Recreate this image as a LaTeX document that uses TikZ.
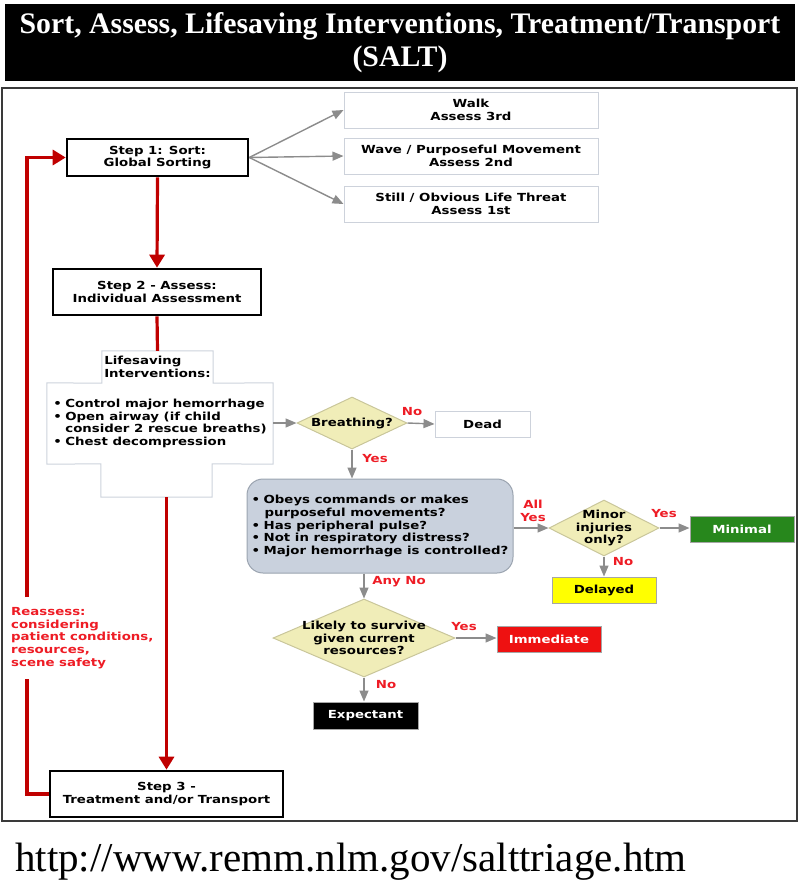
\documentclass[tikz,border=0pt]{standalone}
\usepackage{fontspec}
\usepackage{xcolor}
\usepackage{tikz}
\usetikzlibrary{arrows.meta}
\usetikzlibrary{positioning}
\usetikzlibrary{shapes}
\usetikzlibrary{calc}

\newfontfamily\vfont[FakeStretch=1.2]{DejaVu Sans}
\newfontfamily\gfont{Liberation Serif}

\definecolor{redline}{HTML}{C00000}
\definecolor{redtext}{HTML}{EE1C25}
\definecolor{greyline}{HTML}{8C8C8C}
\definecolor{boxline}{HTML}{CDD2DB}
\definecolor{framegrey}{HTML}{3A3A3A}
\definecolor{diafill}{HTML}{F0EDB8}
\definecolor{dialine}{HTML}{C9C69A}
\definecolor{listfill}{HTML}{C9D1DD}
\definecolor{listline}{HTML}{9AA3AF}
\definecolor{minigreen}{HTML}{27871C}
\definecolor{immred}{HTML}{EE1111}
\definecolor{delyellow}{HTML}{FFFF00}

\newcommand{\bul}{\makebox[12pt][l]{\textbullet}}

\begin{document}
\begin{tikzpicture}[x=1pt,y=-1pt,
    every node/.style={font=\vfont\bfseries\fontsize{11.1}{12.8}\selectfont,align=center,inner sep=0pt},
    stepbox/.style={draw=black,line width=2.6pt,fill=white},
    sortbox/.style={draw=boxline,line width=1pt,fill=white,minimum width=254pt,minimum height=36pt},
    question/.style={diamond,draw=dialine,line width=1pt,fill=diafill},
    result/.style={draw=gray!70,line width=1pt,minimum width=104pt,minimum height=26pt},
    lab/.style={text=redtext},
    garrow/.style={draw=greyline,line width=1.4pt,-{Triangle[length=11pt,width=9pt]}},
    rline/.style={draw=redline,line width=3.2pt},
    rarrow/.style={rline,-{Triangle[length=13pt,width=15pt]}}]
  \useasboundingbox (0,0) rectangle (800,887);

  % title and frame
  \node[fill=black,text=white,minimum width=790pt,minimum height=77pt,
        font=\gfont\bfseries\fontsize{29.8}{33}\selectfont] (title) at (400,42.5)
    {Sort, Assess, Lifesaving Interventions, Treatment/Transport\\(SALT)};
  \draw[framegrey,line width=2pt] (2,88) rectangle (797,821);
  \node[anchor=base west,font=\gfont\fontsize{41}{44}\selectfont] (url) at (15,871)
    {http://www.remm.nlm.gov/salttriage.htm};

  % steps
  \node[stepbox,minimum width=181pt,minimum height=37pt] (step1) at (157.5,157.5) {Step 1: Sort:\\Global Sorting};
  \node[stepbox,minimum width=208pt,minimum height=46pt] (step2) at (157,292) {Step 2 - Assess:\\Individual Assessment};
  \node[stepbox,minimum width=233pt,minimum height=46pt] (step3) at (166.5,794) {Step 3 -\\Treatment and/or Transport};

  % global sorting
  \node[sortbox] (walk) at (471,110) {Walk\\Assess 3rd};
  \node[sortbox] (wave) at (471,156) {Wave / Purposeful Movement\\Assess 2nd};
  \node[sortbox] (still) at (471,204) {Still / Obvious Life Threat\\Assess 1st};

  % lifesaving interventions
  \node[minimum width=111pt,minimum height=32pt,align=left] (lifetop) at (157.5,367) {Lifesaving\\Interventions:};
  \node[minimum width=226pt,minimum height=81pt,align=left] (lifemid) at (160,423.5)
    {\bul Control major hemorrhage\\\bul Open airway (if child\\\hspace*{12pt}consider 2 rescue breaths)\\\bul Chest decompression};
  \node[minimum width=111pt,minimum height=33pt] (lifebot) at (156.5,480.5) {};
  \draw[boxline,line width=1pt] (lifetop.north west) -- (lifetop.north east) -- (lifetop.south east)
    -- (lifemid.north east) -- (lifemid.south east) -- (lifebot.north east) -- (lifebot.south east)
    -- (lifebot.south west) -- (lifebot.north west) -- (lifemid.south west) -- (lifemid.north west)
    -- (lifetop.south west) -- cycle;

  % questions
  \node[question,minimum width=110pt,minimum height=52pt] (breath) at (352,423) {};
  \node (breathtext) at (breath) {Breathing?};
  \node[sortbox,minimum width=95pt,minimum height=26pt] (dead) at (482.5,424) {Dead};
  \node[draw=listline,line width=1pt,fill=listfill,rounded corners=16pt,
        minimum width=266pt,minimum height=94pt,align=left] (obeys) at (380,526)
    {\bul Obeys commands or makes\\\hspace*{13pt}purposeful movements?\\\bul Has peripheral pulse?\\
     \bul Not in respiratory distress?\\\bul Major hemorrhage is controlled?};
  \node[question,minimum width=110pt,minimum height=56pt] (minor) at (604,528) {};
  \node (minortext) at (minor) {Minor\\injuries\\only?};
  \node[question,minimum width=182pt,minimum height=78pt] (likely) at (364,638) {};
  \node (likelytext) at (likely) {Likely to survive\\given current\\resources?};

  % categories
  \node[result,fill=minigreen,text=white] (minimal) at (742,529) {Minimal};
  \node[result,fill=delyellow] (delayed) at (604,590) {Delayed};
  \node[result,fill=immred,text=white] (immediate) at (549,639) {Immediate};
  \node[result,fill=black,text=white,minimum width=105pt,minimum height=27pt] (expectant) at (365.5,715.5) {Expectant};

  % grey connectors
  \draw[garrow] (step1.east) -- (walk.west);
  \draw[garrow] (step1.east) -- (wave.west);
  \draw[garrow] (step1.east) -- (still.west);
  \draw[garrow] (lifemid.east |- breath.west) -- (breath.west);
  \draw[garrow] (breath.east) -- (dead.west);
  \draw[garrow] (breath.south) -- (breath.south |- obeys.north);
  \draw[garrow] (obeys.east |- minor.west) -- (minor.west);
  \draw[garrow] (minor.east) -- (minor.east -| minimal.west);
  \draw[garrow] (minor.south) -- (delayed.north);
  \draw[garrow] (likely.north |- obeys.south) -- (likely.north);
  \draw[garrow] (likely.east) -- (likely.east -| immediate.west);
  \draw[garrow] (likely.south) -- (likely.south |- expectant.north);

  % red labels
  \node[lab] (nodead) at (412,412) {No};
  \node[lab] (yesbreath) at (375,459) {Yes};
  \node[lab] (allyes) at (533,510.5) {All\\Yes};
  \node[lab] (yesminor) at (664,514) {Yes};
  \node[lab] (nominor) at (623,562) {No};
  \node[lab] (anyno) at (399,582) {Any No};
  \node[lab] (yeslikely) at (464,627) {Yes};
  \node[lab] (nolikely) at (386,685) {No};

  % red flow
  \draw[rarrow] (step1.south) -- (step2.north);
  \draw[rline] (step2.south) -- (lifetop.north);
  \draw[rarrow] (step3.north |- lifebot.south) -- (step3.north);
  \node[lab,align=left,anchor=west] (reassess) at (11,638)
    {Reassess:\\considering\\patient conditions,\\resources,\\scene safety};
  \coordinate (loopbot) at (27,679);
  \coordinate (looptop) at (27,597);
  \draw[rline] (step3.west) -| (loopbot);
  \draw[rarrow] (looptop) |- (step1.west);
\end{tikzpicture}
\end{document}
